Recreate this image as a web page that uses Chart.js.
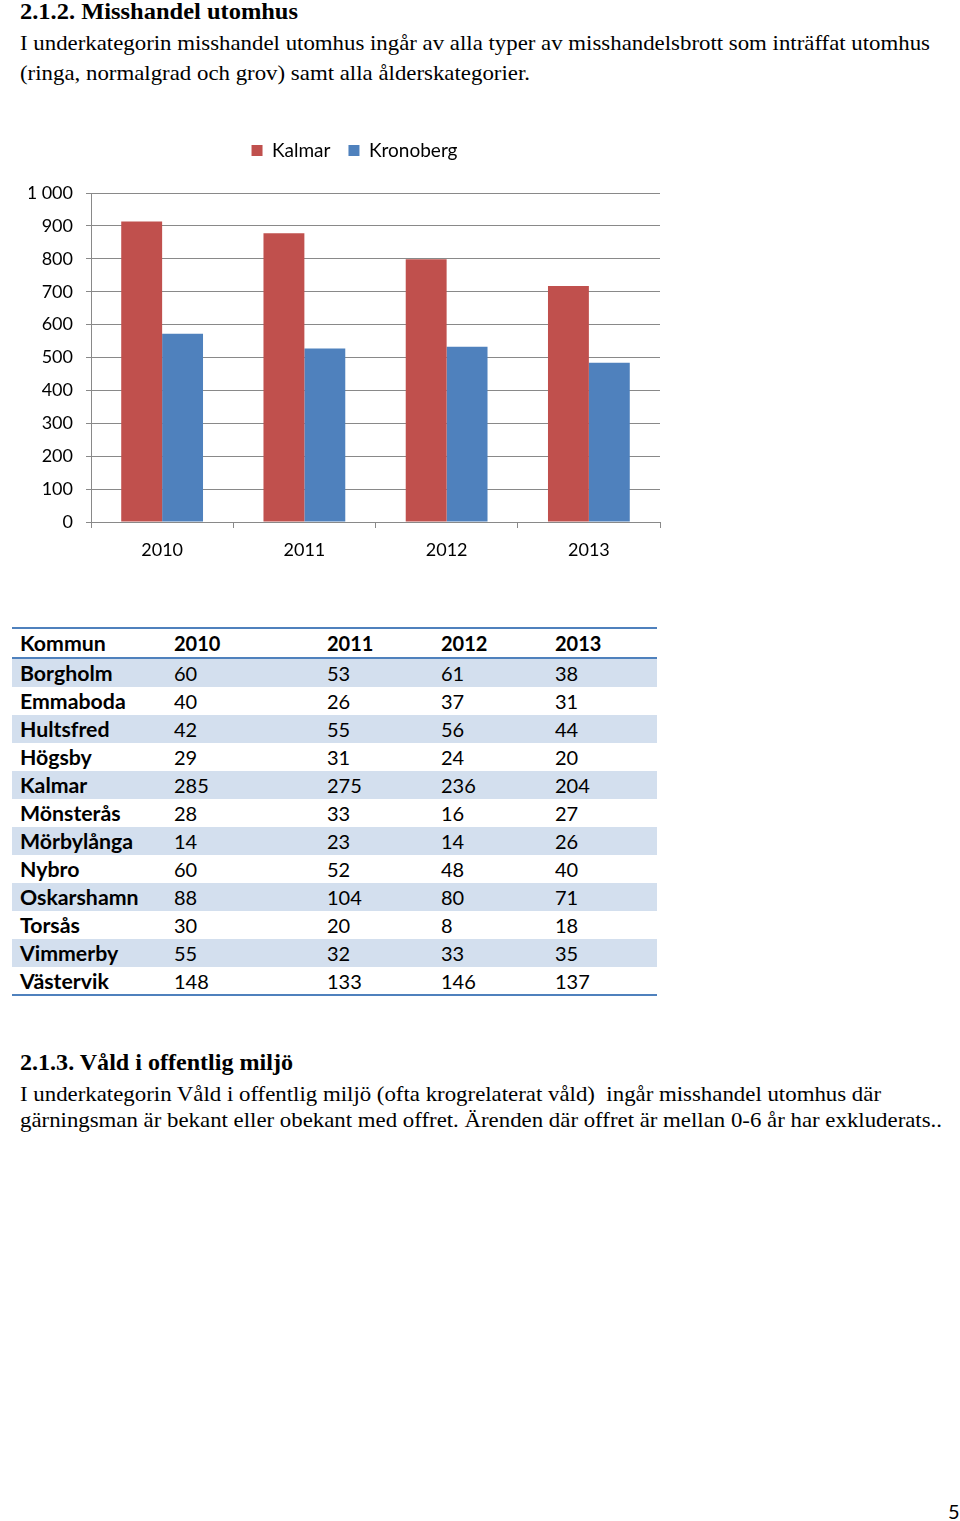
<!DOCTYPE html>
<html><head><meta charset="utf-8">
<script src="https://cdn.jsdelivr.net/npm/chart.js@4/dist/chart.umd.min.js"></script>
<style>
html,body{margin:0;padding:0;background:#fff}
body{width:960px;height:1521px;position:relative;overflow:hidden}
.t{position:absolute;left:20px;white-space:nowrap;font-family:"Liberation Serif","Times New Roman",serif;color:#000;transform-origin:0 50%;line-height:30px;height:30px}
.h{font-weight:bold;font-size:23px}
.p{font-size:21px}
#chartBox{position:absolute;left:0;top:120px;width:680px;height:460px}
.row{position:absolute;left:12px;width:645px;height:28px}
.cell{position:absolute;top:0;line-height:28px;font-family:Lato,"Noto Sans",sans-serif;font-size:20px;color:#000;white-space:nowrap}
.cell.b{font-weight:bold;font-size:21.3px}
.line{position:absolute;left:12px;width:645px;height:2px;background:#4F81BD}
#pg{position:absolute;left:948px;top:1498px;line-height:26px;font-family:Lato,sans-serif;font-size:20px;color:#000}
</style></head>
<body>
<div class="t h" style="top:-3px" data-w="278">2.1.2. Misshandel utomhus</div>
<div class="t p" style="top:28px" data-w="910">I underkategorin misshandel utomhus ingår av alla typer av misshandelsbrott som inträffat utomhus</div>
<div class="t p" style="top:58px" data-w="510">(ringa, normalgrad och grov) samt alla ålderskategorier.</div>

<div id="chartBox"><canvas id="c" width="680" height="460"></canvas></div>

<div id="table"></div>

<div class="t h" style="top:1048px" data-w="273">2.1.3. Våld i offentlig miljö</div>
<div class="t p" style="top:1079px" data-w="861">I underkategorin Våld i offentlig miljö (ofta krogrelaterat våld)&nbsp; ingår misshandel utomhus där</div>
<div class="t p" style="top:1105px" data-w="922">gärningsman är bekant eller obekant med offret. Ärenden där offret är mellan 0-6 år har exkluderats..</div>

<div id="pg">5</div>

<script>
// ---- chart data ----
const years = ['2010', '2011', '2012', '2013'];
const kalmarValues = [913, 878, 799, 717];
const kronobergValues = [572, 527, 533, 484];
const seriesNames = ['Kalmar', 'Kronoberg'];
const yMin = 0, yMax = 1000, yStep = 100;

// ---- table data ----
const tableHeader = ['Kommun', '2010', '2011', '2012', '2013'];
const kommuner = ['Borgholm','Emmaboda','Hultsfred','Högsby','Kalmar','Mönsterås','Mörbylånga','Nybro','Oskarshamn','Torsås','Vimmerby','Västervik'];
const values2010 = [60, 40, 42, 29, 285, 28, 14, 60, 88, 30, 55, 148];
const values2011 = [53, 26, 55, 31, 275, 33, 23, 52, 104, 20, 32, 133];
const values2012 = [61, 37, 56, 24, 236, 16, 14, 48, 80, 8, 33, 146];
const values2013 = [38, 31, 44, 20, 204, 27, 26, 40, 71, 18, 35, 137];

// ---- build table ----
const colX = [8, 162, 315, 429, 543];
const tbl = document.getElementById('table');
function addLine(top){ const d=document.createElement('div'); d.className='line'; d.style.top=top+'px'; tbl.appendChild(d); }
function addRow(top, cells, bold, shaded){
  const r=document.createElement('div'); r.className='row'; r.style.top=top+'px';
  if(shaded) r.style.background='#D3DFEE';
  cells.forEach((c,i)=>{ const s=document.createElement('div'); s.className='cell';
    if(i===0) s.classList.add('b'); else if(bold) s.style.fontWeight='bold';
    s.style.left=colX[i]+'px'; s.textContent=c; r.appendChild(s); });
  tbl.appendChild(r);
}
addRow(629, tableHeader, true, false);
kommuner.forEach((k,i)=>{
  addRow(659 + i*28, [k, values2010[i], values2011[i], values2012[i], values2013[i]], false, i%2===0);
});
addLine(627); addLine(657); addLine(994);

// ---- fit text widths ----
document.querySelectorAll('[data-w]').forEach(el=>{
  const w = el.getBoundingClientRect().width;
  const target = +el.dataset.w;
  el.style.transform = 'scaleX(' + (target/w) + ')';
});

// ---- chart ----
const fmt = v => String(v).replace(/\B(?=(\d{3})+(?!\d))/g, ' ');
const legendTweak = { id:'legendTweak',
  beforeInit(chart){
    const orig = chart.legend.fit;
    chart.legend.fit = function(){ orig.call(this); this.height += 23; };
  },
  afterLayout(chart){
    chart.legend.left += 10; chart.legend.right += 10;
  }
};
const axisGray = '#898989';
new Chart(document.getElementById('c'), {
  type: 'bar',
  data: {
    labels: years,
    datasets: [
      { label: seriesNames[0], data: kalmarValues, backgroundColor: '#C0504D', borderWidth: 0 },
      { label: seriesNames[1], data: kronobergValues, backgroundColor: '#4F81BD', borderWidth: 0 }
    ]
  },
  options: {
    responsive: false,
    animation: false,
    devicePixelRatio: 1,
    layout: { padding: { left: 29, right: 20, top: 3, bottom: 0 } },
    datasets: { bar: { categoryPercentage: 0.575, barPercentage: 1 } },
    plugins: {
      legend: { position: 'top', labels: { boxWidth: 11, boxHeight: 11, padding: 18, color: '#000', font: { family: 'Lato', size: 19 } } },
      tooltip: { enabled: false }
    },
    scales: {
      x: {
        grid: { drawOnChartArea: false, tickLength: 6, color: axisGray, offset: true },
        border: { color: axisGray, width: 1 },
        ticks: { color: '#000', padding: 11, font: { family: 'Lato', size: 18 } },
        afterFit(s){ s.height = 58; }
      },
      y: {
        min: yMin, max: yMax,
        grid: { color: axisGray, lineWidth: 1, tickLength: 5 },
        border: { color: axisGray, width: 1 },
        ticks: { stepSize: yStep, color: '#000', padding: 13, font: { family: 'Lato', size: 18 }, callback: v => fmt(v) },
        afterFit(s){ s.width = 62; }
      }
    }
  },
  plugins: [legendTweak]
});
</script>
</body></html>
